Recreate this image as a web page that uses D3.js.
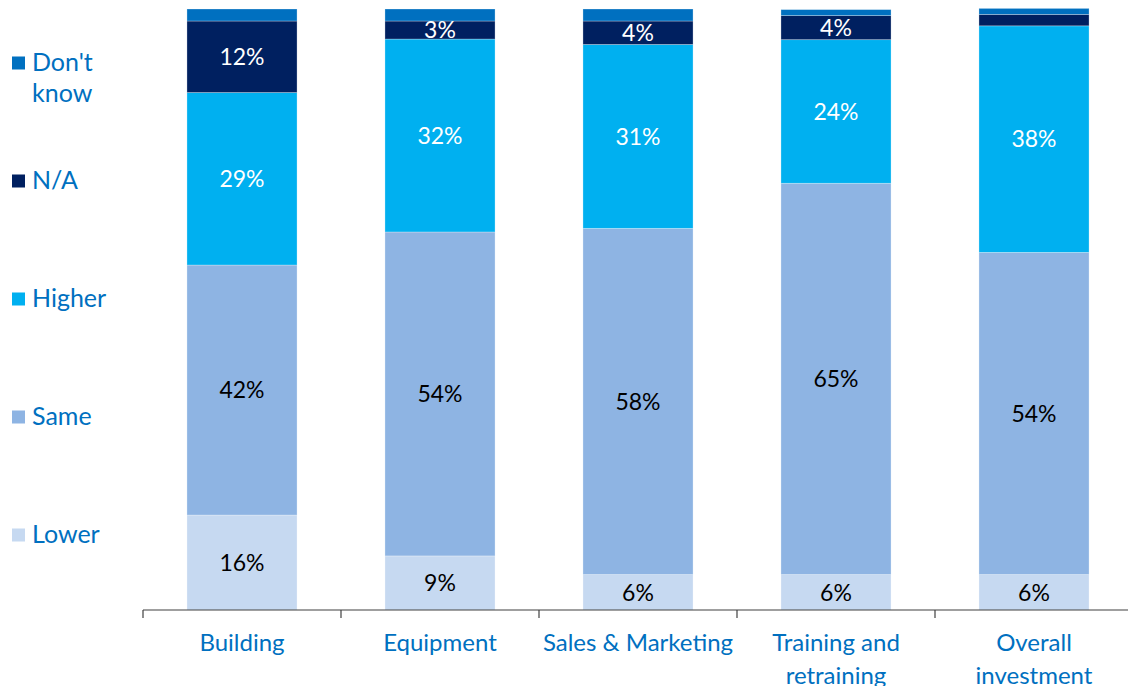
<!DOCTYPE html>
<html>
<head>
<meta charset="utf-8">
<script src="https://cdn.jsdelivr.net/npm/d3@7"></script>
<style>
  html, body { margin: 0; padding: 0; background: #fff; }
  svg { display: block; font-family: Lato, "Open Sans", sans-serif; }
</style>
</head>
<body>
<script>
// data (percent of respondents)
const categories = ["Building", "Equipment", "Sales & Marketing", "Training and retraining", "Overall investment"];
const categoryLines = [["Building"], ["Equipment"], ["Sales & Marketing"], ["Training and", "retraining"], ["Overall", "investment"]];
const series = ["Lower", "Same", "Higher", "N/A", "Don't know"];
const lower = [15.8, 9.0, 5.9, 5.9, 5.9];
const same = [41.6, 53.9, 57.6, 65.1, 53.6];
const higher = [28.7, 32.1, 30.6, 23.9, 37.7];
const na = [11.9, 3.0, 3.9, 4.0, 1.9];
const dontKnow = [2.0, 2.0, 2.0, 1.0, 1.0];

const colors = {
    "Lower": "#C6D9F1",
    "Same": "#8EB4E3",
    "Higher": "#00B0F0",
    "N/A": "#002060",
    "Don't know": "#0070C0"
};
const labelColors = { "Lower": "#000", "Same": "#000", "Higher": "#fff", "N/A": "#fff", "Don't know": "#fff" };

const svgWidth = 1128, svgHeight = 686;
const baseY = 610, topY = 9;
const blue = "#0070C0";

const rows = categories.map((c, i) => ({
    cat: c,
    "Lower": lower[i], "Same": same[i], "Higher": higher[i], "N/A": na[i], "Don't know": dontKnow[i]
}));

const stacked = d3.stack().keys(series)(rows);

const svg = d3.select("body").append("svg")
    .attr("width", svgWidth)
    .attr("height", svgHeight);

const xScale = d3.scaleBand()
    .domain(categories)
    .range([143, 1133])
    .paddingInner(0.444)
    .paddingOuter(0.222);

const yScale = d3.scaleLinear()
    .domain([0, 100])
    .range([baseY, topY]);

const layers = svg.selectAll("g.layer")
    .data(stacked)
    .enter().append("g")
    .attr("class", "layer")
    .attr("fill", d => colors[d.key]);

layers.selectAll("rect")
    .data(d => d)
    .enter().append("rect")
    .attr("x", d => xScale(d.data.cat))
    .attr("width", xScale.bandwidth())
    .attr("y", d => yScale(d[1]))
    .attr("height", d => yScale(d[0]) - yScale(d[1]))
    .attr("stroke", "rgba(255,255,255,0.35)")
    .attr("stroke-width", 0.8);

// value labels, skipped for the thin slices
layers.selectAll("text")
    .data(d => d.map(p => ({ p: p, key: d.key })).filter(o => o.p[1] - o.p[0] >= 2.5))
    .enter().append("text")
    .attr("x", o => xScale(o.p.data.cat) + xScale.bandwidth() / 2)
    .attr("y", o => (yScale(o.p[0]) + yScale(o.p[1])) / 2)
    .attr("dy", "0.36em")
    .attr("text-anchor", "middle")
    .attr("font-size", 23)
    .attr("fill", o => labelColors[o.key])
    .text(o => Math.round(o.p[1] - o.p[0]) + "%");

// x axis with ticks between categories
const axis = svg.append("g");
axis.append("line")
    .attr("x1", 143).attr("x2", svgWidth)
    .attr("y1", baseY).attr("y2", baseY)
    .attr("stroke", "#404040").attr("stroke-width", 1.2);
const bounds = categories.map(c => xScale(c) - xScale.step() * xScale.paddingInner() / 2);
axis.selectAll("line.tick")
    .data(bounds)
    .enter().append("line")
    .attr("class", "tick")
    .attr("x1", d => d).attr("x2", d => d)
    .attr("y1", baseY).attr("y2", baseY + 8)
    .attr("stroke", "#404040").attr("stroke-width", 1.2);

axis.selectAll("text")
    .data(categories)
    .enter().append("text")
    .attr("x", c => xScale(c) + xScale.bandwidth() / 2)
    .attr("y", 651)
    .attr("text-anchor", "middle")
    .attr("font-size", 24)
    .attr("fill", blue)
    .each(function(c, i) {
        const t = d3.select(this);
        categoryLines[i].forEach((line, j) => {
            t.append("tspan")
                .attr("x", xScale(c) + xScale.bandwidth() / 2)
                .attr("dy", j === 0 ? 0 : 33)
                .text(line);
        });
    });

// legend, top to bottom
const legendKeys = series.slice().reverse();
const legendLines = { "Don't know": ["Don't", "know"] };
const legend = svg.selectAll("g.legend")
    .data(legendKeys)
    .enter().append("g")
    .attr("class", "legend")
    .attr("transform", (d, i) => `translate(12, ${63 + i * 118})`);

legend.append("rect")
    .attr("x", 0).attr("y", -6.5)
    .attr("width", 13).attr("height", 13)
    .attr("fill", d => colors[d]);

legend.append("text")
    .attr("x", 20)
    .attr("y", 8)
    .attr("font-size", 25)
    .attr("fill", blue)
    .each(function(d) {
        const t = d3.select(this);
        (legendLines[d] || [d]).forEach((line, j) => {
            t.append("tspan").attr("x", 20).attr("dy", j === 0 ? 0 : 31).text(line);
        });
    });
</script>
</body>
</html>
